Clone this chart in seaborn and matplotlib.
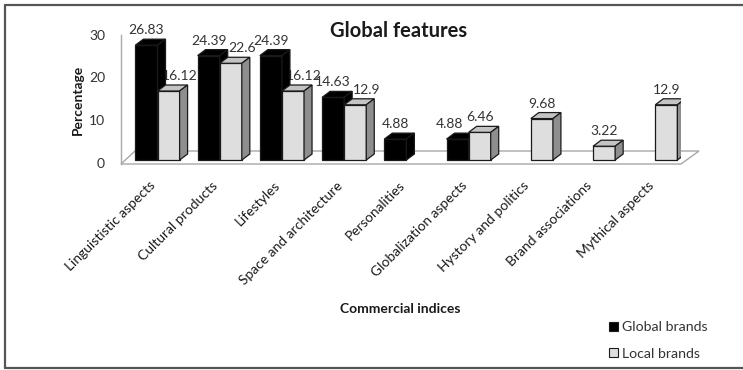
import numpy as np
import pandas as pd
import matplotlib
matplotlib.use("Agg")
import matplotlib.pyplot as plt
import seaborn as sns
from matplotlib.patches import Polygon, Patch
from matplotlib.lines import Line2D
from matplotlib.transforms import ScaledTranslation

# ---------------- data ----------------
categories = ["Linguististic aspects", "Cultural products", "Lifestyles",
              "Space and architecture", "Personalities", "Globalization aspects",
              "Hystory and politics", "Brand associations", "Mythical aspects"]
global_brands = [26.83, 24.39, 24.39, 14.63, 4.88, 4.88, np.nan, np.nan, np.nan]
local_brands = [16.12, 22.6, 16.12, 12.9, np.nan, 6.46, 9.68, 3.22, 12.9]
series_names = ["Global brands", "Local brands"]
y_ticks = [0, 10, 20, 30]

df = pd.DataFrame({
    "category": categories * 2,
    "series": [series_names[0]] * len(categories) + [series_names[1]] * len(categories),
    "value": global_brands + local_brands,
})

# ---------------- style ----------------
sns.set_theme(style="white")
plt.rcParams['font.family'] = ['Lato', 'DejaVu Sans']
TXT = "#1a1a1a"
BLACK = "#000000"
LIGHT_FRONT = "#DEDEDE"
LIGHT_TOP = "#C4C4C4"
LIGHT_SIDE = "#8E8E8E"
EDGE = "#1a1a1a"

W, H = 743, 370
fig = plt.figure(figsize=(W / 100, H / 100), dpi=100)

# axes placement in pixels
L, R, T, B = 121, 681, 31.6, 164
ax = fig.add_axes([L / W, 1 - B / H, (R - L) / W, (B - T) / H])

sns.barplot(data=df, x="category", y="value", hue="series", order=categories,
            hue_order=series_names, palette=[BLACK, LIGHT_FRONT], saturation=1,
            width=0.71, dodge=True, ax=ax, legend=False,
            edgecolor=EDGE, linewidth=0.9, errorbar=None)

px_x = (R - L) / 9.0          # pixels per category unit
px_y = 4.28                   # pixels per percent
y0_px = 160                   # pixel row of value 0
ax.set_xlim(-(157.5 - L) / px_x, (R - 157.5) / px_x)
ax.set_ylim(-(B - y0_px) / px_y, 30)

# 3D depth of bars (in data units)
dxu = 8 / px_x
dyu = 6 / px_y

PT = 72 / 100  # points per pixel
for p in list(ax.patches):
    h = p.get_height()
    if not np.isfinite(h) or h == 0:
        continue
    x0, w = p.get_x(), p.get_width()
    dark = np.mean(p.get_facecolor()[:3]) < 0.5
    z = 3 if dark else 4
    p.set_zorder(z)
    top_c = BLACK if dark else LIGHT_TOP
    side_c = BLACK if dark else LIGHT_SIDE
    top = Polygon([(x0, h), (x0 + dxu, h + dyu), (x0 + w + dxu, h + dyu), (x0 + w, h)],
                  closed=True, facecolor=top_c, edgecolor=EDGE, lw=0.9, zorder=z)
    side = Polygon([(x0 + w, 0), (x0 + w, h), (x0 + w + dxu, h + dyu), (x0 + w + dxu, dyu)],
                   closed=True, facecolor=side_c, edgecolor=EDGE, lw=0.9, zorder=z)
    ax.add_patch(top)
    ax.add_patch(side)

    # nudge labels of adjacent bars apart (as the chart's labels are)
    ci = int(round(x0 + w / 2))
    g, l = global_brands[ci], local_brands[ci]
    both = np.isfinite(g) and np.isfinite(l)
    dx_px = 0
    if both:
        if dark and l > g:
            dx_px = -8
        elif not dark and g > l:
            dx_px = 11
    ax.annotate(f"{h:g}", xy=(x0 + w / 2, h), xytext=(dx_px * PT, 9 * PT),
                textcoords="offset points", ha="center", va="bottom",
                fontsize=10, color="#333333", zorder=2, annotation_clip=False)

# floor (parallelogram)
fx0, fx1 = ax.get_xlim()
fy0 = ax.get_ylim()[0]
back_y = (y0_px - 151) / px_y
floor = Polygon([(fx0, fy0), (fx1, fy0), ((699 - 157.5) / px_x, back_y),
                 ((135 - 157.5) / px_x, back_y)],
                closed=True, fill=False, edgecolor="#A8A8A8", lw=1.0,
                zorder=1, clip_on=False)
ax.add_patch(floor)

# axes styling
for s in ["top", "right", "bottom"]:
    ax.spines[s].set_visible(False)
ax.spines["left"].set_color("#A8A8A8")
ax.spines["left"].set_linewidth(1.0)
ax.spines["left"].set_bounds(fy0, (y0_px - 35) / px_y)
ax.set_facecolor("none")
ax.grid(False)

ax.set_yticks(y_ticks)
ax.set_yticklabels([str(t) for t in y_ticks])
ax.tick_params(axis="y", length=0, pad=11.5, labelsize=10, labelcolor="#333333")
shift = ScaledTranslation(0, -3 / 100, fig.dpi_scale_trans)
for lab in ax.get_yticklabels():
    lab.set_transform(lab.get_transform() + shift)

ax.set_xticks(range(len(categories)))
ax.set_xticklabels(categories, rotation=45, ha="right", rotation_mode="anchor")
ax.tick_params(axis="x", length=0, pad=11, labelsize=10, labelcolor=TXT)
xshift = ScaledTranslation(-8 / 100, 0, fig.dpi_scale_trans)
for lab in ax.get_xticklabels():
    lab.set_transform(lab.get_transform() + xshift)
ax.set_xlabel("")
ax.set_ylabel("")

# texts
fig.text(399 / W, 1 - 31 / H, "Global features", ha="center", va="center",
         fontsize=14.5, fontweight="bold", color=TXT)
fig.text(77.5 / W, 1 - 100 / H, "Percentage", ha="center", va="center",
         rotation=90, fontsize=10, fontweight="bold", color=TXT)
fig.text(400 / W, 1 - 309 / H, "Commercial indices", ha="center", va="center",
         fontsize=10, fontweight="bold", color=TXT)

# legend
handles = [Patch(facecolor=BLACK, edgecolor=EDGE, lw=0.8),
           Patch(facecolor=LIGHT_FRONT, edgecolor=EDGE, lw=0.8)]
fig.legend(handles, series_names, loc="upper left",
           bbox_to_anchor=(609 / W, 1 - 321 / H), frameon=False,
           fontsize=10.2, handlelength=0.6, handleheight=0.6,
           handletextpad=0.3, labelspacing=1.05, borderpad=0, borderaxespad=0,
           labelcolor="#333333")

# outer frame (left, top, bottom)
for xs, ys in [([5, 5], [5, 368]), ([5, 743], [5, 5]), ([5, 743], [368, 368])]:
    fig.add_artist(Line2D([x / W for x in xs], [1 - y / H for y in ys],
                          transform=fig.transFigure, color="#555555", lw=1.6))

fig.savefig("out.png", dpi=100)
